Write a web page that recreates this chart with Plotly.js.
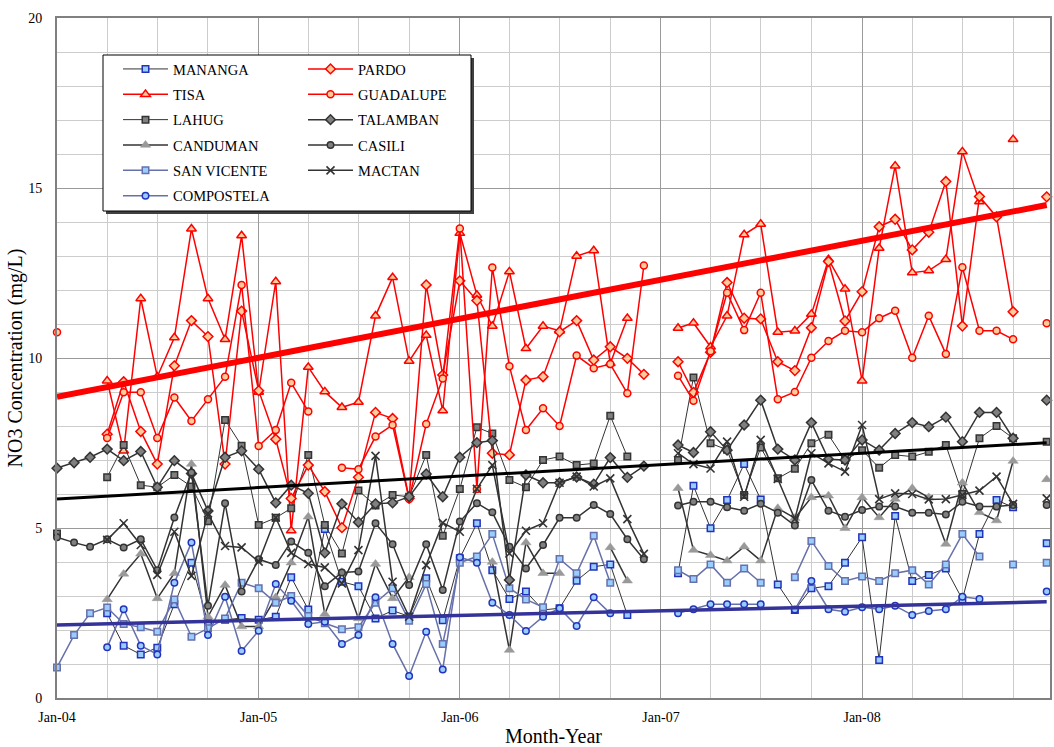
<!DOCTYPE html>
<html>
<head>
<meta charset="utf-8">
<script src="https://cdn.plot.ly/plotly-3.0.1.min.js"></script>
<style>
  html, body { margin: 0; padding: 0; background: #ffffff; }
  #chart { width: 1054px; height: 747px; }
</style>
</head>
<body>
<div id="chart"></div>
<script>
// ---- Months: Jan-2004 .. Dec-2008 (60 monthly samples) ----
const months = [];
for (let y = 2004; y <= 2008; y++) {
  for (let m = 1; m <= 12; m++) months.push(y + '-' + (m < 10 ? '0' + m : m) + '-01');
}

// ---- Series values (mg/L), one row per year Jan..Dec, null = no sample ----
const mananga = [
  null, null, null, 2.49, 1.54, 1.28, 1.48, 2.76, 3.98, 2.20, 2.30, 2.35,
  2.30, 2.39, 3.55, 2.60, 4.97, 3.42, 3.29, 2.34, 2.57, 2.40, 3.52, 2.29,
  4.11, 5.14, 3.76, 2.91, 3.13, 2.59, 2.64, 3.45, 3.86, 3.93, 2.44, null,
  null, 3.67, 6.24, 4.99, 5.82, 6.88, 5.84, 3.34, 2.59, 3.23, 3.29, 3.98,
  4.73, 1.12, 5.35, 3.44, 3.62, 3.81, 2.90, 4.82, 5.82, 5.61, null, 4.55
];
const pardo = [
  null, null, null, 7.76, 9.30, 7.84, 6.88, 9.77, 11.10, 10.63, 6.88, 11.38,
  9.04, 7.61, 5.87, 6.85, 6.07, 5.01, 6.49, 8.40, 8.22, 5.87, 12.15, 9.50,
  12.27, 11.69, 7.20, 7.15, 9.35, 9.45, 10.77, 11.10, 9.94, 10.33, 9.99, 9.52,
  null, 9.89, 8.99, 10.17, 12.22, 11.17, 11.15, 9.89, 9.63, 10.89, 12.84, 11.09,
  11.95, 13.86, 14.08, 13.18, 13.70, 15.19, 10.94, 14.75, 14.15, 11.36, null, 14.74
];
const tisa = [
  null, null, null, 9.33, 7.27, 11.75, 9.45, 10.60, 13.80, 11.75, 10.55, 13.60,
  9.00, 12.25, 4.92, 9.73, 9.01, 8.55, 8.70, 11.24, 12.37, 9.91, 10.67, 8.45,
  13.67, 11.85, 10.94, 12.54, 10.28, 10.94, 10.80, 13.00, 13.16, 9.84, 11.17, null,
  null, 10.88, 11.03, 10.33, 11.24, 13.63, 13.94, 10.76, 10.80, 11.29, 12.90, 12.03,
  9.33, 13.23, 15.65, 12.51, 12.57, 12.90, 16.07, 14.60, null, 16.43, null, null
];
const guadalupe = [
  10.76, null, null, 7.65, 8.99, 8.99, 7.65, 8.84, 8.15, 8.79, 9.45, 12.15,
  7.41, 7.88, 9.27, 8.43, null, 6.77, 6.73, 7.69, 8.03, 5.85, 8.06, 9.40,
  13.81, 6.15, 12.66, 9.76, 7.88, 8.52, 8.00, 10.07, 9.70, 9.82, 8.96, 12.72,
  null, 9.48, 8.74, 10.20, 11.92, 10.82, 11.92, 8.79, 9.00, 10.01, 10.50, 10.80,
  10.76, 11.17, 11.39, 10.01, 11.24, 10.12, 12.67, 10.80, 10.80, 10.55, null, 11.02
];
const lahug = [
  4.84, null, null, 6.49, 7.44, 6.26, 6.20, 6.56, 6.22, 5.20, 8.18, 7.42,
  5.09, 5.30, 5.58, 7.15, 5.09, 4.25, 6.10, 5.66, 5.97, 5.92, 7.15, 4.77,
  6.15, 7.96, 7.78, 6.41, 6.20, 7.00, 7.10, 6.85, 6.90, 8.30, 7.10, null,
  null, 7.00, 9.43, 7.49, 7.30, 5.97, 7.37, 6.46, 6.74, 7.49, 7.74, 7.00,
  7.29, 6.77, 7.15, 7.10, 7.24, 7.44, 6.00, 7.64, 8.00, 7.64, null, 7.54
];
const talamban = [
  6.76, 6.92, 7.08, 7.32, 6.98, 7.25, 6.20, 6.98, 6.60, 5.50, 7.08, 7.27,
  6.73, 5.74, 6.26, 6.02, 4.27, 5.71, 5.17, 5.71, 5.74, 5.92, 6.59, 5.92,
  7.08, 7.51, 7.57, 3.47, 6.56, 6.33, 6.33, 6.50, 6.29, 7.07, 6.49, 6.82,
  null, 7.44, 7.22, 7.83, 7.29, 8.03, 8.76, 7.32, 7.00, 8.10, 7.02, 7.00,
  7.59, 7.29, 7.78, 8.10, 7.98, 8.26, 7.54, 8.40, 8.40, 7.64, null, 8.76
];
const canduman = [
  null, null, null, 2.90, 3.65, 4.24, 2.93, 3.67, 6.88, 2.39, 3.32, 2.10,
  2.10, 2.96, 3.98, 5.33, 2.47, 3.70, 2.34, 3.94, 2.93, 3.55, null, null,
  null, null, 4.00, 1.41, 4.57, 3.67, 3.67, null, null, 4.43, 3.45, null,
  null, 6.17, 4.35, 4.20, 4.04, 4.45, 4.04, 5.58, 5.29, 5.90, 5.95, 4.99,
  5.90, 5.31, 5.85, 6.17, 5.90, 4.53, 6.33, 5.46, 5.22, 6.97, null, 6.43
];
const casili = [
  4.73, 4.57, 4.45, 4.67, 4.43, 4.67, 3.76, 5.31, 6.63, 2.71, 5.73, 3.13,
  4.08, 3.91, 4.60, 4.27, 3.29, 3.69, 3.72, 5.14, 4.52, 3.32, 4.52, 3.18,
  5.19, 5.73, 5.46, 4.45, 3.81, 4.50, 5.30, 5.30, 5.68, 5.41, 4.67, 4.08,
  null, 5.66, 5.77, 5.77, 5.61, 5.51, 5.71, 5.45, 5.07, 6.41, 5.51, 5.33,
  5.53, 5.63, 5.63, 5.45, 5.45, 5.40, 5.77, 5.63, 5.63, 5.68, null, 5.68
];
const sanVicente = [
  0.90, 1.85, 2.49, 2.66, 2.18, 2.08, 1.95, 2.90, 1.80, 2.05, 2.34, 3.39,
  3.23, 2.80, 3.00, 2.41, 2.20, 2.02, 2.08, 2.80, 3.23, 2.27, 3.35, 1.59,
  3.98, 4.16, 4.82, 3.23, 2.90, 2.67, 4.09, 3.67, 4.77, 3.39, null, null,
  null, 3.76, 3.50, 3.93, 3.39, 3.81, 3.39, null, 3.55, 4.62, 3.88, 3.44,
  3.57, 3.44, 3.67, 3.76, 3.34, 3.93, 4.82, 4.16, null, 3.93, null, 3.98
];
const mactan = [
  null, null, null, 4.65, 5.14, 4.50, 3.62, 4.89, 3.59, 5.43, 4.47, 4.43,
  4.01, 5.31, 4.27, 3.94, 3.84, 3.37, 4.35, 7.12, 3.42, 2.39, 3.91, 5.15,
  4.89, 6.15, 6.85, 4.25, 4.92, 5.14, 6.33, 6.51, 6.22, 6.46, 5.26, 4.24,
  null, 7.20, 6.88, 6.75, 7.54, 5.92, 7.59, 6.44, 5.26, 7.20, 6.90, 6.66,
  8.03, 5.85, 6.02, 6.00, 5.84, 5.85, 5.97, 6.10, 6.51, 5.71, null, 5.87
];
const compostela = [
  null, null, null, 1.49, 2.61, 1.54, 1.28, 3.39, 4.57, 1.85, 2.98, 1.38,
  1.98, 3.35, 2.86, 2.18, 2.24, 1.59, 1.85, 2.96, 1.59, 0.65, 1.95, 0.84,
  4.14, 3.98, 2.80, 2.44, 1.97, 2.39, 2.64, 2.12, 2.96, 2.49, null, null,
  null, 2.49, 2.61, 2.76, 2.76, 2.76, 2.76, null, 2.60, 3.44, 2.61, 2.54,
  2.67, 2.61, 2.71, 2.44, 2.56, 2.61, 2.98, 2.91, null, null, null, 3.13
];

// ---- Trend lines (values read at first and last month) ----
const trendDates = ['2004-01-01', '2008-12-01'];
const trendRed = [8.86, 14.50];
const trendBlack = [5.85, 7.51];
const trendBlue = [2.15, 2.83];

// ---- Axis labels ----
const xTickVals = ['2004-01-01', '2005-01-01', '2006-01-01', '2007-01-01', '2008-01-01'];
const xTickText = ['Jan-04', 'Jan-05', 'Jan-06', 'Jan-07', 'Jan-08'];
const yTickVals = [0, 5, 10, 15, 20];

const FONT = 'Liberation Serif, Times New Roman, serif';
const RED = '#ff0000', PEACH = '#ffcc99';
const DARK = '#333333', GREYF = '#808080';
const SLATE = '#6670aa', LBLUE = '#99ccff', BLUE = '#2233bb';

function series(name, y, o) {
  return {
    type: 'scatter', mode: 'lines+markers', name: name, x: months, y: y,
    connectgaps: false, cliponaxis: false,
    legend: o.legend, legendgroup: name,
    line: { color: o.lc, width: o.lw },
    marker: { symbol: o.sym, size: o.ms, color: o.fill, line: { color: o.mlc, width: o.mlw } }
  };
}

const traces = [
  // Legend column 1
  series('MANANGA', mananga, { legend: 'legend', lc: DARK, lw: 1, sym: 'square', ms: 6.5, fill: LBLUE, mlc: BLUE, mlw: 1.5 }),
  series('TISA', tisa, { legend: 'legend', lc: RED, lw: 1.5, sym: 'triangle-up', ms: 8.5, fill: PEACH, mlc: RED, mlw: 1.5 }),
  series('LAHUG', lahug, { legend: 'legend', lc: DARK, lw: 1, sym: 'square', ms: 6.5, fill: GREYF, mlc: DARK, mlw: 1.5 }),
  series('CANDUMAN', canduman, { legend: 'legend', lc: DARK, lw: 1.5, sym: 'triangle-up', ms: 9, fill: '#999999', mlc: '#999999', mlw: 0.5 }),
  series('SAN VICENTE', sanVicente, { legend: 'legend', lc: SLATE, lw: 1.5, sym: 'square', ms: 6.5, fill: LBLUE, mlc: SLATE, mlw: 1.5 }),
  series('COMPOSTELA', compostela, { legend: 'legend', lc: SLATE, lw: 1.5, sym: 'circle', ms: 6.5, fill: LBLUE, mlc: BLUE, mlw: 1.5 }),
  // Legend column 2
  series('PARDO', pardo, { legend: 'legend2', lc: RED, lw: 1.5, sym: 'diamond', ms: 7.5, fill: PEACH, mlc: RED, mlw: 1.5 }),
  series('GUADALUPE', guadalupe, { legend: 'legend2', lc: RED, lw: 1.5, sym: 'circle', ms: 7, fill: PEACH, mlc: RED, mlw: 1.5 }),
  series('TALAMBAN', talamban, { legend: 'legend2', lc: DARK, lw: 1.5, sym: 'diamond', ms: 7.5, fill: GREYF, mlc: DARK, mlw: 1.5 }),
  series('CASILI', casili, { legend: 'legend2', lc: DARK, lw: 1.5, sym: 'circle', ms: 6.5, fill: GREYF, mlc: DARK, mlw: 1.5 }),
  series('MACTAN', mactan, { legend: 'legend2', lc: DARK, lw: 1.5, sym: 'x-thin-open', ms: 8, fill: DARK, mlc: DARK, mlw: 1.6 }),
  // Trend lines
  { type: 'scatter', mode: 'lines', x: trendDates, y: trendRed, showlegend: false, hoverinfo: 'skip', line: { color: '#ff0000', width: 6 } },
  { type: 'scatter', mode: 'lines', x: trendDates, y: trendBlack, showlegend: false, hoverinfo: 'skip', line: { color: '#000000', width: 3 } },
  { type: 'scatter', mode: 'lines', x: trendDates, y: trendBlue, showlegend: false, hoverinfo: 'skip', line: { color: '#333399', width: 3.5 } }
];

// Legend box (pixel geometry converted to paper coordinates)
const PL = 57, PR = 1050, PT = 18, PB = 698;
const px = v => (v - PL) / (PR - PL);
const py = v => (PB - v) / (PB - PT);

const legendCommon = {
  orientation: 'v', xanchor: 'left', yanchor: 'top',
  bgcolor: 'rgba(0,0,0,0)', borderwidth: 0,
  font: { family: FONT, size: 14.5, color: '#000000' },
  itemwidth: 45, tracegroupgap: 3.5, itemclick: false, itemdoubleclick: false
};

const layout = {
  width: 1054, height: 747,
  margin: { l: PL, r: 1054 - PR, t: PT, b: 747 - PB, pad: 0 },
  paper_bgcolor: '#ffffff', plot_bgcolor: '#ffffff',
  font: { family: FONT, size: 14, color: '#000000' },
  showlegend: true,
  xaxis: {
    type: 'date', range: ['2004-01-01', '2008-12-07'],
    tickmode: 'array', tickvals: xTickVals, ticktext: xTickText,
    tickfont: { family: FONT, size: 14 },
    showgrid: true, gridcolor: '#9a9a9a', gridwidth: 1,
    minor: { tickmode: 'linear', tick0: '2004-01-01', dtick: 'M3', showgrid: true, gridcolor: '#cccccc', gridwidth: 1 },
    showline: true, linecolor: '#808080', linewidth: 2, mirror: true,
    ticks: '', zeroline: false, ticklabelstandoff: 5,
    title: { text: 'Month-Year', font: { family: FONT, size: 20 }, standoff: 9 }
  },
  yaxis: {
    range: [0, 20], tickmode: 'array', tickvals: yTickVals,
    tickfont: { family: FONT, size: 14 },
    showgrid: true, gridcolor: '#9a9a9a', gridwidth: 1,
    minor: { tickmode: 'linear', tick0: 0, dtick: 1, showgrid: true, gridcolor: '#cccccc', gridwidth: 1 },
    showline: true, linecolor: '#808080', linewidth: 2, mirror: true,
    ticks: '', zeroline: false, ticklabelstandoff: 10,
    title: { text: 'NO3 Concentration (mg/L)', font: { family: FONT, size: 20 }, standoff: 0 }
  },
  legend: Object.assign({}, legendCommon, { x: px(118), y: py(53) }),
  legend2: Object.assign({}, legendCommon, { x: px(303), y: py(53) }),
  shapes: [
    { type: 'rect', xref: 'paper', yref: 'paper', layer: 'above',
      x0: px(106), x1: px(474), y0: py(214), y1: py(58),
      fillcolor: '#404040', line: { width: 0 } },
    { type: 'rect', xref: 'paper', yref: 'paper', layer: 'above',
      x0: px(103), x1: px(471), y0: py(211), y1: py(55),
      fillcolor: '#ffffff', line: { color: '#000000', width: 1 } }
  ]
};

Plotly.newPlot('chart', traces, layout, { staticPlot: true, displayModeBar: false });
</script>
</body>
</html>
